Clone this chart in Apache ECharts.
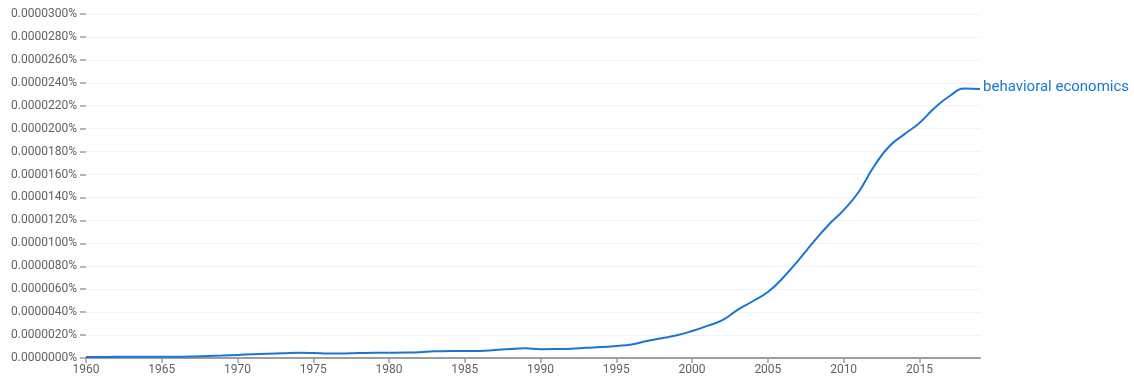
<!DOCTYPE html>
<html>
<head>
<meta charset="utf-8">
<script src="https://cdn.jsdelivr.net/npm/echarts@6/dist/echarts.min.js"></script>
<style>
html,body{margin:0;padding:0;background:#fff;}
#chart{width:1134px;height:385px;}
</style>
</head>
<body>
<div id="chart"></div>
<script>
// Years 1960..2019
const years = [1960,1961,1962,1963,1964,1965,1966,1967,1968,1969,
  1970,1971,1972,1973,1974,1975,1976,1977,1978,1979,
  1980,1981,1982,1983,1984,1985,1986,1987,1988,1989,
  1990,1991,1992,1993,1994,1995,1996,1997,1998,1999,
  2000,2001,2002,2003,2004,2005,2006,2007,2008,2009,
  2010,2011,2012,2013,2014,2015,2016,2017,2018,2019];
// values in units of 0.000001 %
const behavioralEconomics = [0.08,0.09,0.10,0.10,0.10,0.10,0.11,0.13,0.18,0.22,
  0.27,0.32,0.37,0.42,0.46,0.44,0.39,0.40,0.43,0.45,
  0.46,0.47,0.50,0.58,0.60,0.61,0.62,0.70,0.79,0.84,
  0.77,0.78,0.81,0.89,0.95,1.05,1.18,1.48,1.72,1.98,
  2.35,2.80,3.30,4.20,4.95,5.75,7.00,8.50,10.10,11.60,
  12.90,14.50,16.70,18.45,19.50,20.50,21.80,22.85,23.50,23.45];
const xTicks = [1960,1965,1970,1975,1980,1985,1990,1995,2000,2005,2010,2015];
const seriesName = 'behavioral economics';

const chart = echarts.init(document.getElementById('chart'));
chart.setOption({
  animation: false,
  grid: {left: 86, right: 154, top: 14, bottom: 27},
  xAxis: {
    type: 'value', min: 1960, max: 2019, interval: 5,
    axisLine: {show: true, lineStyle: {color: '#9e9e9e', width: 2}},
    axisTick: {show: true, length: 5, lineStyle: {color: '#9e9e9e', width: 1.5}, customValues: xTicks},
    axisLabel: {color: '#5f6368', fontFamily: 'Roboto', fontSize: 12, margin: 6, customValues: xTicks,
      formatter: v => String(v)},
    splitLine: {show: false}
  },
  yAxis: {
    type: 'value', min: 0, max: 30, interval: 2,
    axisLine: {show: false},
    axisTick: {show: true, length: 6, lineStyle: {color: '#9e9e9e', width: 1.5}},
    axisLabel: {color: '#5f6368', fontFamily: 'Roboto', fontSize: 12, margin: 9,
      formatter: v => (v / 1e6).toFixed(7) + '%'},
    splitLine: {show: true, lineStyle: {color: '#f3f3f3', width: 1}}
  },
  series: [{
    name: seriesName,
    type: 'line',
    smooth: true,
    symbol: 'none',
    data: years.map((y, i) => [y, behavioralEconomics[i]]),
    lineStyle: {color: '#1976d2', width: 2},
    endLabel: {show: true, formatter: '{a}', color: '#1976d2', fontFamily: 'Roboto', fontSize: 15, distance: 3, offset: [0, -2]}
  }]
});
</script>
</body>
</html>
